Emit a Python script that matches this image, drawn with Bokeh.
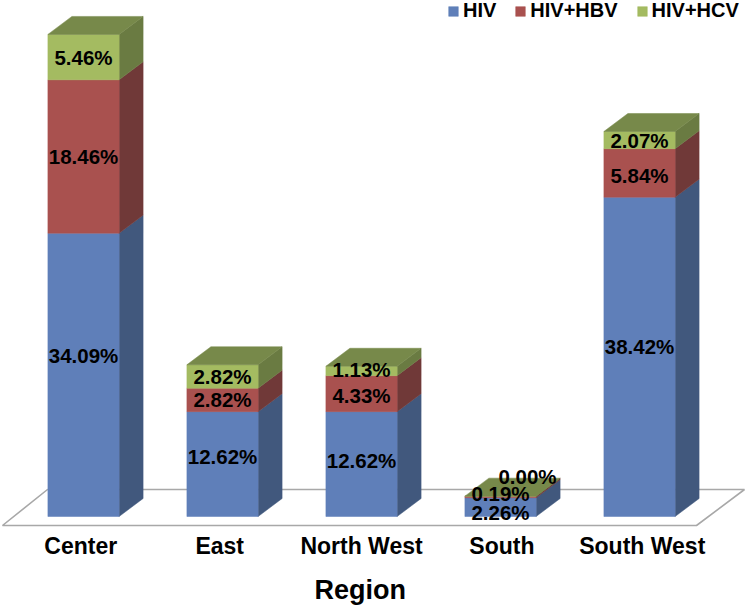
from bokeh.plotting import figure
from bokeh.models import ColumnDataSource, FixedTicker, Legend, LegendItem, Title
from bokeh.core.properties import value
from bokeh.embed import file_html
from bokeh.resources import INLINE

regions = ["Center", "East", "North West", "South", "South West"]
series_names = ["HIV", "HIV+HBV", "HIV+HCV"]
hiv = [34.09, 12.62, 12.62, 2.26, 38.42]
hbv = [18.46, 2.82, 4.33, 0.19, 5.84]
hcv = [5.46, 2.82, 1.13, 0.00, 2.07]
tick_positions = [-0.02, 0.98, 2.0, 3.01, 4.02]

front_colors = ["#5f7fb9", "#a9514f", "#a4bb61"]
side_colors = ["#41587d", "#703938", "#6a7b42"]
top_color = "#77894a"
floor_color = "#a8a8a8"
FONT = "Liberation Sans"

# layout scale (pixels)
FRAME_W, FRAME_H = 746, 530
X0_PX, X_STEP = 83.0, 139.0
Y0_PX, Y_STEP = 516.0, 8.31
HALF = 35.6 / X_STEP
DX = 24.0 / X_STEP
DY = 18.0 / Y_STEP


def px_x(px):
    return (px - X0_PX) / X_STEP


def px_y(px):
    return (Y0_PX - px) / Y_STEP


p = figure(
    frame_width=FRAME_W, frame_height=FRAME_H, output_backend="svg", toolbar_location=None,
    x_range=(px_x(0), px_x(FRAME_W)), y_range=(px_y(FRAME_H), px_y(0)),
    min_border=0, min_border_left=0, min_border_right=0, min_border_top=0, min_border_bottom=0,
    outline_line_color=None, background_fill_color="white",
)
p.grid.visible = False
p.yaxis.visible = False

# floor
p.line([px_x(47), px_x(2), px_x(696), px_x(744), px_x(47)],
       [px_y(489), px_y(525), px_y(525), px_y(489), px_y(489)],
       line_color=floor_color, line_width=1.6)

n = len(regions)
stacks = [hiv, hbv, hcv]
bottoms = [0.0] * n
front_renderers = []
for s, vals in enumerate(stacks):
    xs_f, ys_f, xs_s, ys_s = [], [], [], []
    for i, v in enumerate(vals):
        b, t = bottoms[i], bottoms[i] + v
        l, r = i - HALF, i + HALF
        xs_f.append([l, r, r, l])
        ys_f.append([b, b, t, t])
        xs_s.append([r, r + DX, r + DX, r])
        ys_s.append([b, b + DY, t + DY, t])
        bottoms[i] = t
    p.patches(xs_s, ys_s, fill_color=side_colors[s], line_color=side_colors[s], line_width=0.5)
    front_renderers.append(
        p.patches(xs_f, ys_f, fill_color=front_colors[s], line_color=front_colors[s], line_width=0.5))

# top faces
xs_t = [[i - HALF, i + HALF, i + HALF + DX, i - HALF + DX] for i in range(n)]
ys_t = [[bottoms[i], bottoms[i], bottoms[i] + DY, bottoms[i] + DY] for i in range(n)]
p.patches(xs_t, ys_t, fill_color=top_color, line_color=top_color, line_width=0.5)

# data labels: label offsets in pixels around segment centres
label_dy = [
    [-19, -8, -4, 5, -10],
    [0, 0, 2, -3, 3],
    [0, 0, -1, -20, 0],
]
label_dx = [
    [0, 0, 0, 0, 0],
    [0, 0, 0, 0, 0],
    [0, 0, 0, 27, 0],
]
bottoms = [0.0] * n
lx, ly, lt, ox, oy = [], [], [], [], []
for s, vals in enumerate(stacks):
    for i, v in enumerate(vals):
        lx.append(i)
        ly.append(bottoms[i] + v / 2)
        lt.append(f"{v:.2f}%")
        ox.append(label_dx[s][i])
        oy.append(label_dy[s][i])
        bottoms[i] += v
src = ColumnDataSource(dict(x=lx, y=ly, t=lt, ox=ox, oy=oy))
p.text("x", "y", text="t", source=src, x_offset="ox", y_offset="oy",
       text_align="center", text_baseline="middle", text_color="#000000",
       text_font=value(FONT), text_font_style="bold", text_font_size="20.5px")

# axis
ax = p.xaxis[0]
ax.ticker = FixedTicker(ticks=tick_positions)
ax.major_label_overrides = {t: r for t, r in zip(tick_positions, regions)}
ax.axis_line_color = None
ax.major_tick_line_color = None
ax.minor_tick_line_color = None
ax.major_tick_out = 0
ax.major_label_standoff = 2
ax.major_label_text_font = FONT
ax.major_label_text_font_style = "bold"
ax.major_label_text_font_size = "23px"
ax.major_label_text_color = "#000000"

p.add_layout(Title(text="Region", align="left", offset=314, standoff=23,
                   text_font=FONT, text_font_style="bold", text_font_size="27px",
                   text_color="#000000"), "below")

legend = Legend(
    items=[LegendItem(label=name, renderers=[r]) for name, r in zip(series_names, front_renderers)],
    orientation="horizontal", location=(447, 508),
    border_line_color=None, background_fill_alpha=0,
    glyph_width=12, glyph_height=12, label_standoff=4, spacing=18,
    padding=0, margin=0,
    label_text_font=FONT, label_text_font_style="bold", label_text_font_size="20px",
    label_text_color="#000000",
)
p.add_layout(legend, "center")

open("out.html", "w").write(file_html(p, INLINE))
